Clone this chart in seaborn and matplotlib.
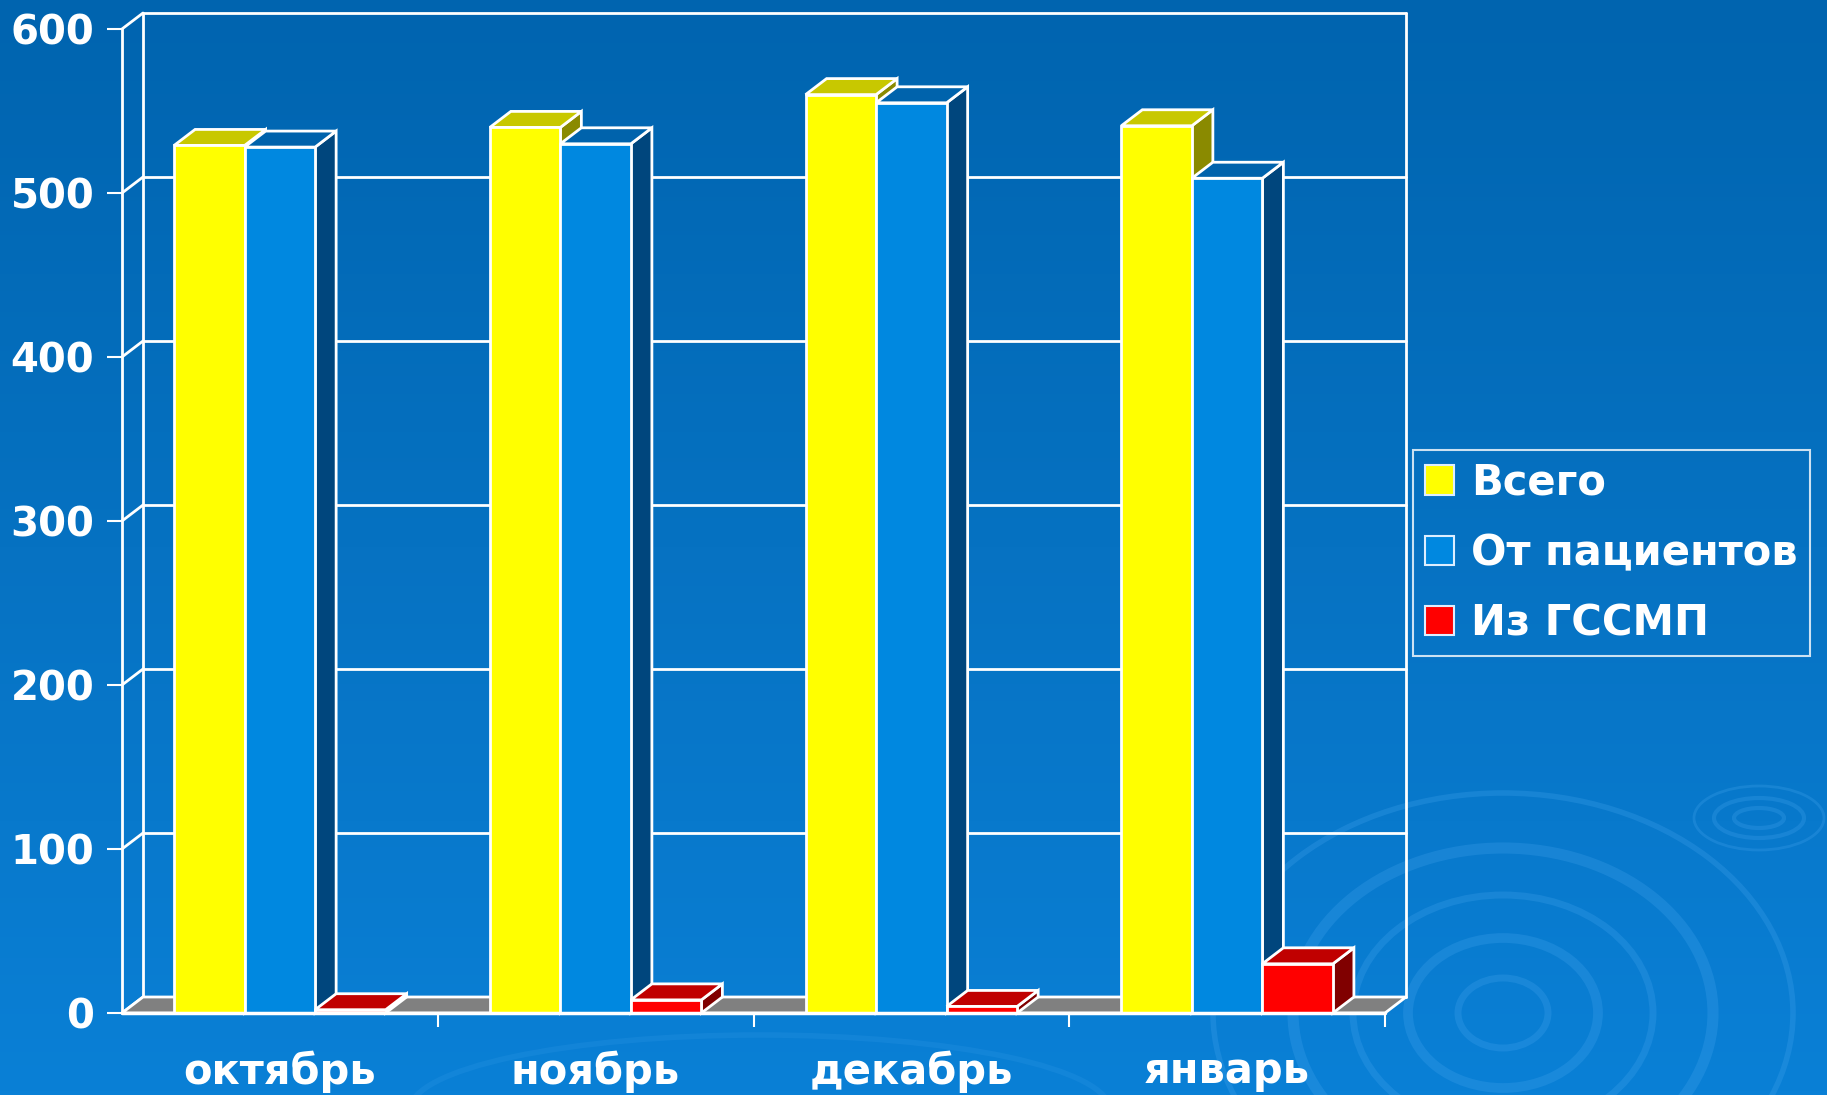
import numpy as np
import pandas as pd
import matplotlib.pyplot as plt
import seaborn as sns
from matplotlib.patches import Polygon, Patch, Ellipse
from matplotlib.colors import LinearSegmentedColormap


months = ['октябрь', 'ноябрь', 'декабрь', 'январь']
series = ['Всего', 'От пациентов', 'Из ГССМП']
total = [529, 540, 560, 541]
patients = [528, 530, 555, 509]
gssmp = [2, 8, 4, 30]
yticks = [0, 100, 200, 300, 400, 500, 600]

front_colors = ['#FFFF00', '#0088E0', '#FF0000']
top_colors = ['#C8C800', '#0063AC', '#C00000']
side_colors = ['#8A8A00', '#00467D', '#800000']

df = pd.DataFrame({
    'month': months * 3,
    'series': np.repeat(series, len(months)),
    'value': total + patients + gssmp,
})

sns.set_style('white')
plt.rcParams['font.family'] = ['DejaVu Sans']
plt.rcParams['font.weight'] = 'bold'

W, H = 1827, 1095
fig = plt.figure(figsize=(W / 100, H / 100), dpi=100)

# background gradient + ripples
bg = fig.add_axes([0, 0, 1, 1], zorder=-10)
grad = np.linspace(0, 1, 256).reshape(-1, 1)
cmap = LinearSegmentedColormap.from_list('bg', ['#0064AF', '#0672C2', '#0A80D6'])
bg.imshow(grad, aspect='auto', cmap=cmap, extent=[0, W, H, 0])
for rx, ry, lw in [(45, 35, 5), (95, 75, 7), (150, 118, 5), (210, 165, 8), (290, 220, 4)]:
    bg.add_patch(Ellipse((1503, 1013), 2 * rx, 2 * ry, fill=False,
                         ec='#4AA8F0', lw=lw, alpha=0.25))
for rx, ry, lw in [(25, 10, 3), (45, 20, 3), (65, 32, 2)]:
    bg.add_patch(Ellipse((1759, 818), 2 * rx, 2 * ry, fill=False,
                         ec='#4AA8F0', lw=lw, alpha=0.25))
bg.add_patch(Ellipse((760, 1110), 700, 150, fill=False, ec='#4AA8F0', lw=4, alpha=0.15))
bg.set_xlim(0, W)
bg.set_ylim(H, 0)
bg.axis('off')

ax = fig.add_axes([122 / W, 1 - 1013 / H, 1263 / W, 984 / H])
ax.patch.set_alpha(0)

sns.barplot(data=df, x='month', y='value', hue='series', palette=front_colors,
            width=0.67, saturation=1, edgecolor='white', linewidth=2,
            legend=False, ax=ax)

ax.set_xlim(-0.5, 3.5)
ax.set_ylim(0, 600)

# depth offset of the pseudo-3d effect, in data units
ddx = 21 / (1263 / 4)
ddy = 16 / (984 / 600)
x0, x1 = -0.5, 3.5

# floor
ax.add_patch(Polygon([(x0, 0), (x1, 0), (x1 + ddx, ddy), (x0 + ddx, ddy)],
                     closed=True, fc='#808080', ec='white', lw=2, zorder=1, clip_on=False))
# back wall grid, left wall diagonals
for v in yticks:
    ax.plot([x0 + ddx, x1 + ddx], [v + ddy, v + ddy], color='white', lw=2, zorder=0.5, clip_on=False)
    ax.plot([x0, x0 + ddx], [v, v + ddy], color='white', lw=2, zorder=0.5, clip_on=False)
for xb in [x0 + ddx, x1 + ddx]:
    ax.plot([xb, xb], [ddy, 600 + ddy], color='white', lw=2, zorder=0.5, clip_on=False)
ax.plot([x0, x0], [0, 600], color='white', lw=2, zorder=0.6, clip_on=False)
ax.plot([x0, x1], [0, 0], color='white', lw=2.5, zorder=6, clip_on=False)

# 3d tops and sides for every bar
for i, cont in enumerate(ax.containers):
    for rect in cont:
        bx, bw, bh = rect.get_x(), rect.get_width(), rect.get_height()
        rect.set_zorder(3 + i + 0.5)
        ax.add_patch(Polygon([(bx + bw, 0), (bx + bw + ddx, ddy), (bx + bw + ddx, bh + ddy), (bx + bw, bh)],
                             closed=True, fc=side_colors[i], ec='white', lw=2, zorder=3 + i, clip_on=False))
        ax.add_patch(Polygon([(bx, bh), (bx + bw, bh), (bx + bw + ddx, bh + ddy), (bx + ddx, bh + ddy)],
                             closed=True, fc=top_colors[i], ec='white', lw=2, zorder=3 + i, clip_on=False))

for s in ax.spines.values():
    s.set_visible(False)

ax.set_yticks(yticks)
ax.set_yticklabels([str(v) for v in yticks])
ax.tick_params(axis='y', length=11, width=1.5, color='white', pad=9,
               labelsize=29, labelcolor='white', left=True)
ax.set_xticks(range(len(months)))
ax.set_xticklabels(months)
ax.set_xticks([0.5, 1.5, 2.5, 3.5], minor=True)
ax.tick_params(axis='x', which='major', length=0, pad=27, labelsize=30, labelcolor='white')
ax.tick_params(axis='x', which='minor', length=10, width=1.5, color='white', bottom=True)
ax.set_xlabel('')
ax.set_ylabel('')
ax.grid(False)

handles = [Patch(facecolor=c, edgecolor='#DDEEFF', lw=1.5) for c in front_colors]
leg = fig.legend(handles, series, loc='upper left', bbox_to_anchor=(1413 / W, 1 - 450 / H),
                 fontsize=30, labelcolor='white', frameon=True, facecolor='none',
                 edgecolor='white', handlelength=0.7, handleheight=0.7,
                 handletextpad=0.42, borderpad=0.28, labelspacing=0.68,
                 fancybox=False, borderaxespad=0)
leg.get_frame().set_linewidth(1.5)

fig.savefig('out.png', dpi=100)
